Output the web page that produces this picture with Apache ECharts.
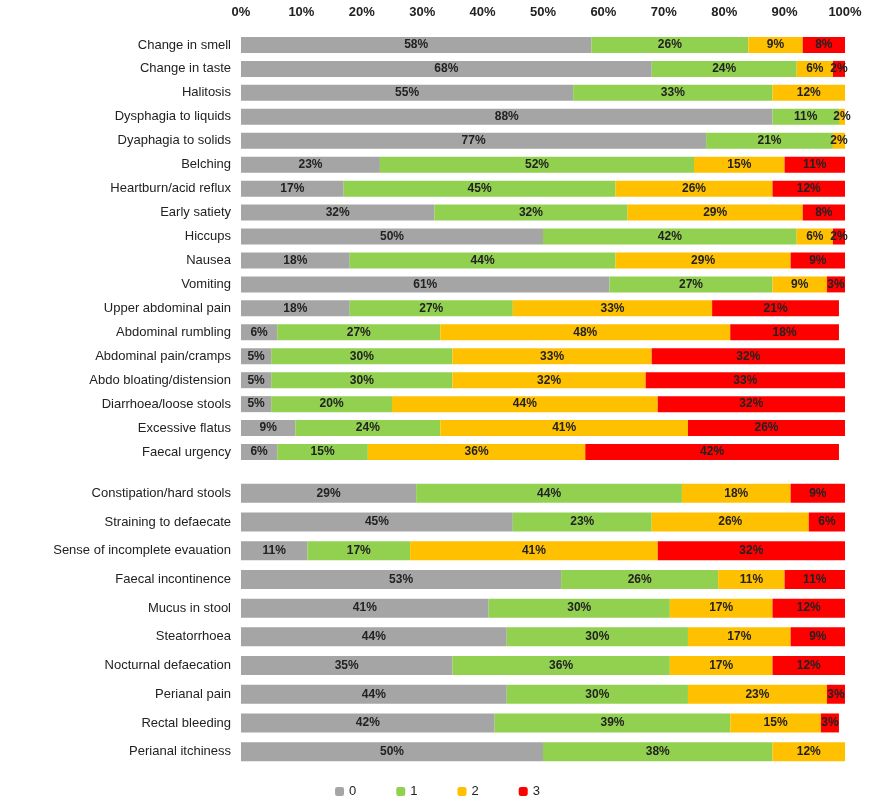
<!DOCTYPE html>
<html><head><meta charset="utf-8">
<script src="https://cdn.jsdelivr.net/npm/echarts@6/dist/echarts.min.js"></script>
<style>body{margin:0}#c{width:875px;height:805px}</style></head>
<body><div id="c"></div>
<script>
var topCats = ['Change in smell','Change in taste','Halitosis','Dysphagia to liquids','Dyaphagia to solids','Belching','Heartburn/acid reflux','Early satiety','Hiccups','Nausea','Vomiting','Upper abdominal pain','Abdominal rumbling','Abdominal pain/cramps','Abdo bloating/distension','Diarrhoea/loose stools','Excessive flatus','Faecal urgency'];
var top0 = [58,68,55,88,77,23,17,32,50,18,61,18,6,5,5,5,9,6];
var top1 = [26,24,33,11,21,52,45,32,42,44,27,27,27,30,30,20,24,15];
var top2 = [9,6,12,2,2,15,26,29,6,29,9,33,48,33,32,44,41,36];
var top3 = [8,2,0,0,0,11,12,8,2,9,3,21,18,32,33,32,26,42];

var botCats = ['Constipation/hard stools','Straining to defaecate','Sense of incomplete evauation','Faecal incontinence','Mucus in stool','Steatorrhoea','Nocturnal defaecation','Perianal pain','Rectal bleeding','Perianal itchiness'];
var bot0 = [29,45,11,53,41,44,35,44,42,50];
var bot1 = [44,23,17,26,30,30,36,30,39,38];
var bot2 = [18,26,41,11,17,17,17,23,15,12];
var bot3 = [9,6,32,11,12,9,12,3,3,0];

var names = ['0','1','2','3'];
var colors = ['#a5a5a5','#92d050','#ffc000','#ff0000'];
var topData = [top0, top1, top2, top3];
var botData = [bot0, bot1, bot2, bot3];

var labelFmt = function (p) { return p.value ? p.value + '%' : ''; };
var series = [];
[[topData, 0, 16], [botData, 1, 19]].forEach(function (g) {
    g[0].forEach(function (vals, i) {
        series.push({
            name: names[i], type: 'bar', stack: 's' + g[1],
            xAxisIndex: g[1], yAxisIndex: g[1],
            barWidth: g[2], data: vals,
            itemStyle: { color: colors[i] },
            label: { show: true, formatter: labelFmt, color: '#222', fontSize: 12, fontWeight: 'bold' }
        });
    });
});

var yCommon = {
    type: 'category', inverse: true,
    axisTick: { show: false }, axisLine: { show: false },
    axisLabel: { color: '#222', fontSize: 13, margin: 10 }
};
var xCommon = { type: 'value', min: 0, max: 100, interval: 10, splitLine: { show: false }, axisLine: { show: false }, axisTick: { show: false } };

var myChart = echarts.init(document.getElementById('c'));
myChart.setOption({
    textStyle: { fontFamily: 'Liberation Sans' },
    animation: false,
    legend: { bottom: 2, itemWidth: 9, itemHeight: 9, itemGap: 40, textStyle: { fontSize: 13, color: '#222' }, data: names },
    grid: [
        { left: 241, right: 30, top: 33, height: 431 },
        { left: 241, right: 30, top: 479, height: 287 }
    ],
    xAxis: [
        Object.assign({}, xCommon, { gridIndex: 0, position: 'top', axisLabel: { formatter: '{value}%', color: '#222', fontSize: 13, fontWeight: 'bold', margin: 14 } }),
        Object.assign({}, xCommon, { gridIndex: 1, axisLabel: { show: false } })
    ],
    yAxis: [
        Object.assign({}, yCommon, { gridIndex: 0, data: topCats }),
        Object.assign({}, yCommon, { gridIndex: 1, data: botCats })
    ],
    series: series
});
</script></body></html>
